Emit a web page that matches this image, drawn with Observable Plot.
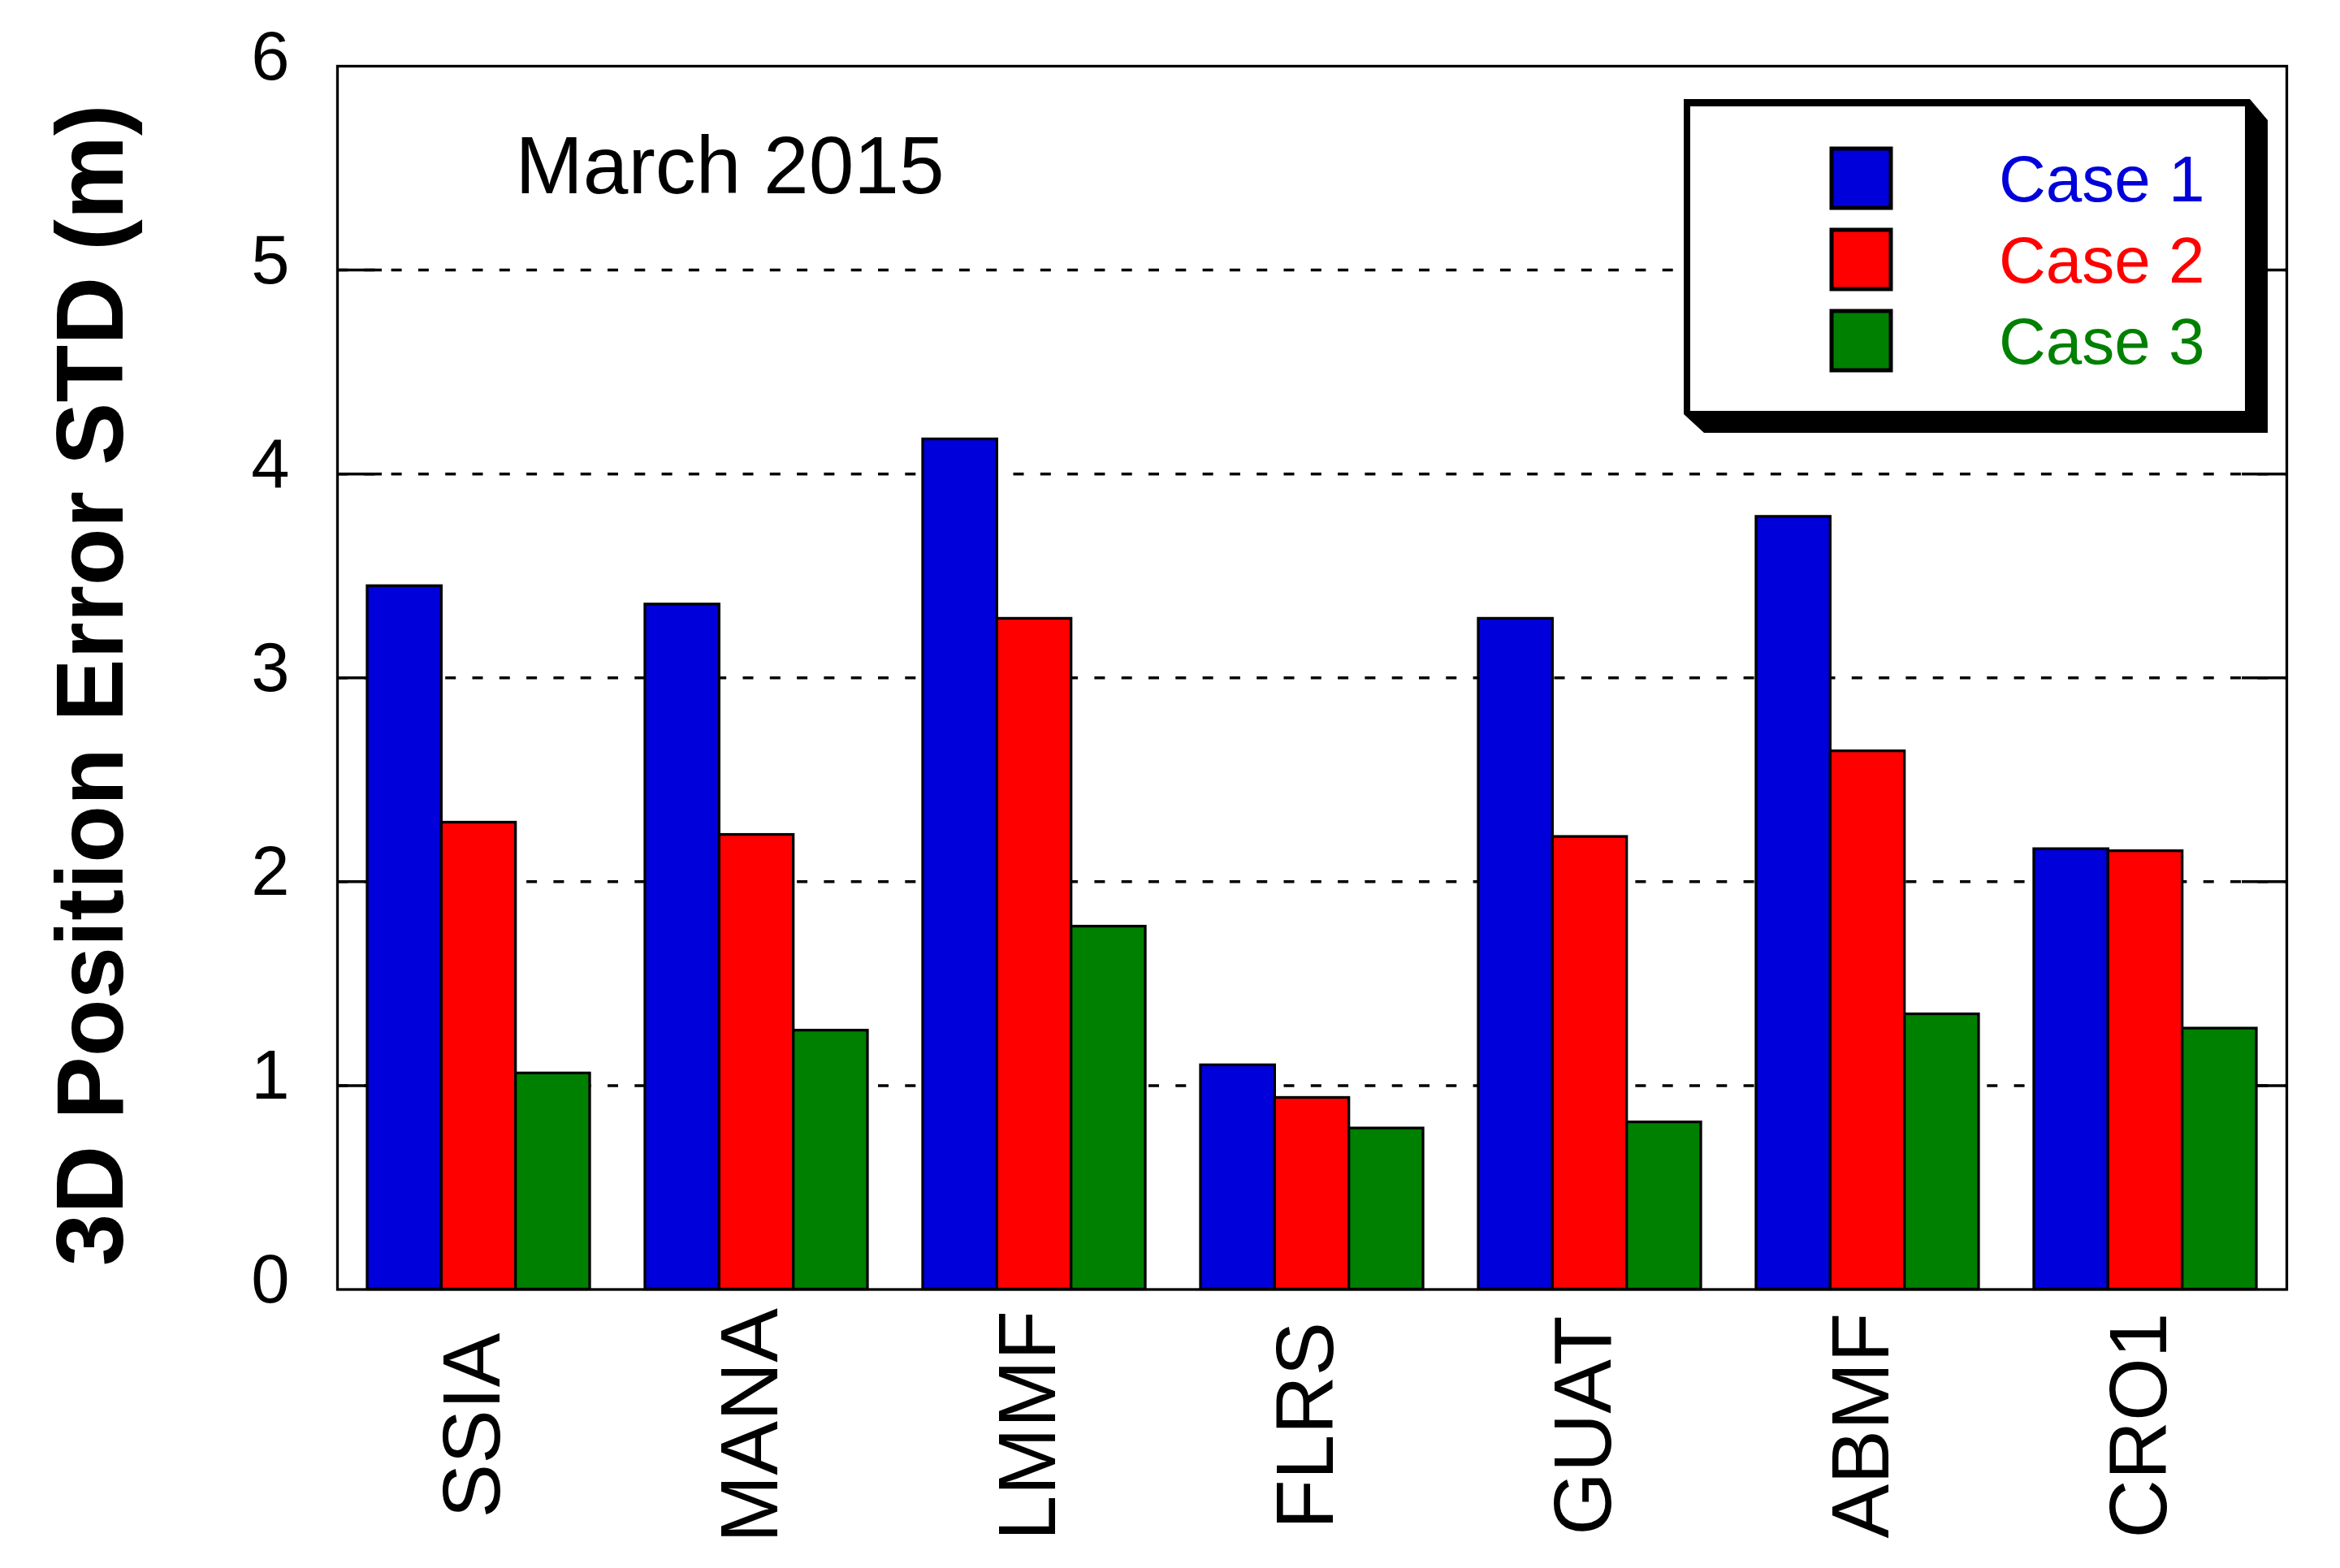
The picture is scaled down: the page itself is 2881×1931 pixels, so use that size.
<!DOCTYPE html>
<html>
<head>
<meta charset="utf-8">
<script src="https://cdn.jsdelivr.net/npm/d3@7"></script>
<script src="https://cdn.jsdelivr.net/npm/@observablehq/plot@0.6"></script>
<style>
  html, body { margin: 0; padding: 0; background: #fff; }
  svg { display: block; }
</style>
</head>
<body>
<div id="chart"></div>
<script>
// ---- Data ----
const stations = ["SSIA", "MANA", "LMMF", "FLRS", "GUAT", "ABMF", "CRO1"];
const cases = ["Case 1", "Case 2", "Case 3"];
const case1 = [3.45, 3.36, 4.17, 1.10, 3.29, 3.79, 2.16];
const case2 = [2.29, 2.23, 3.29, 0.94, 2.22, 2.64, 2.15];
const case3 = [1.06, 1.27, 1.78, 0.79, 0.82, 1.35, 1.28];
const yTicks = [0, 1, 2, 3, 4, 5, 6];
const gridValues = [1, 2, 3, 4, 5];
const colors = ["#0000DA", "#FF0000", "#008000"];
const yTitle = "3D Position Error STD (m)";
const annotation = "March 2015";

const series = [case1, case2, case3];
const data = stations.flatMap((s, i) => cases.map((c, j) => ({station: s, case: c, value: series[j][i]})));

// ---- Layout ----
const W = 2881, H = 1931;
const marginLeft = 415, marginRight = 66, marginTop = 81, marginBottom = 343.5;
const frameW = W - marginLeft - marginRight;
const font = "'Liberation Sans', Arial, Helvetica, sans-serif";

function build(bw) {
  const third = bw / 3;
  return Plot.plot({
    width: W, height: H,
    marginLeft, marginRight, marginTop, marginBottom,
    style: {fontFamily: font, background: "white", overflow: "visible"},
    x: {type: "band", domain: stations, paddingInner: 0.2, paddingOuter: 0.1, axis: null},
    y: {domain: [0, 6], axis: null},
    marks: [
      Plot.ruleY(gridValues, {stroke: "black", strokeWidth: 3.5, strokeDasharray: "13,20.3"}),
      Plot.ruleY(gridValues, {stroke: "black", strokeWidth: 3.5, insetRight: frameW - 55}),
      Plot.ruleY(gridValues, {stroke: "black", strokeWidth: 3.5, insetLeft: frameW - 55}),
      ...cases.map((c, j) => Plot.barY(data.filter(d => d.case === c), {
        x: "station", y: "value", fill: colors[j], stroke: "black", strokeWidth: 3.3,
        insetLeft: j * third, insetRight: (2 - j) * third
      })),
      Plot.frame({stroke: "black", strokeWidth: 3.3}),
      Plot.axisY({ticks: yTicks, tickSize: 0, tickPadding: 59, fontSize: 85, tickFormat: d => String(d), label: null, dy: -11}),
      Plot.text(stations, {x: d => d, text: d => d, frameAnchor: "bottom", dx: 25, dy: 167.5, rotate: -90, textAnchor: "middle", fontSize: 100, fill: "black"}),
      Plot.text([yTitle], {text: d => d, frameAnchor: "left", dx: -302, dy: 9, rotate: -90, textAnchor: "middle", fontSize: 116, fontWeight: "bold", fill: "black"}),
      Plot.text([annotation], {text: d => d, frameAnchor: "top-left", dx: 219, dy: 85, textAnchor: "start", fontSize: 100, fill: "black"})
    ]
  });
}

// first pass to read the band width from the library's x scale
const probe = build(0);
const bw = probe.scale("x").bandwidth;
const plot = build(bw);
document.getElementById("chart").appendChild(plot);

// ---- Legend ----
const svg = d3.select(plot);
const lg = svg.append("g").attr("font-family", font).attr("text-anchor", "start");
lg.append("polygon")
  .attr("points", "2073,122 2770,122 2792,148 2792,533 2098,533 2073,510")
  .attr("fill", "black");
lg.append("rect").attr("x", 2081).attr("y", 131).attr("width", 683).attr("height", 375).attr("fill", "white");
cases.forEach((c, j) => {
  lg.append("rect")
    .attr("x", 2255).attr("y", 183 + j * 100).attr("width", 73).attr("height", 73)
    .attr("fill", colors[j]).attr("stroke", "black").attr("stroke-width", 5);
  lg.append("text")
    .attr("x", 2461).attr("y", 248 + j * 100)
    .attr("text-anchor", "start")
    .attr("font-size", 80).attr("fill", colors[j])
    .text(c);
});
</script>
</body>
</html>
